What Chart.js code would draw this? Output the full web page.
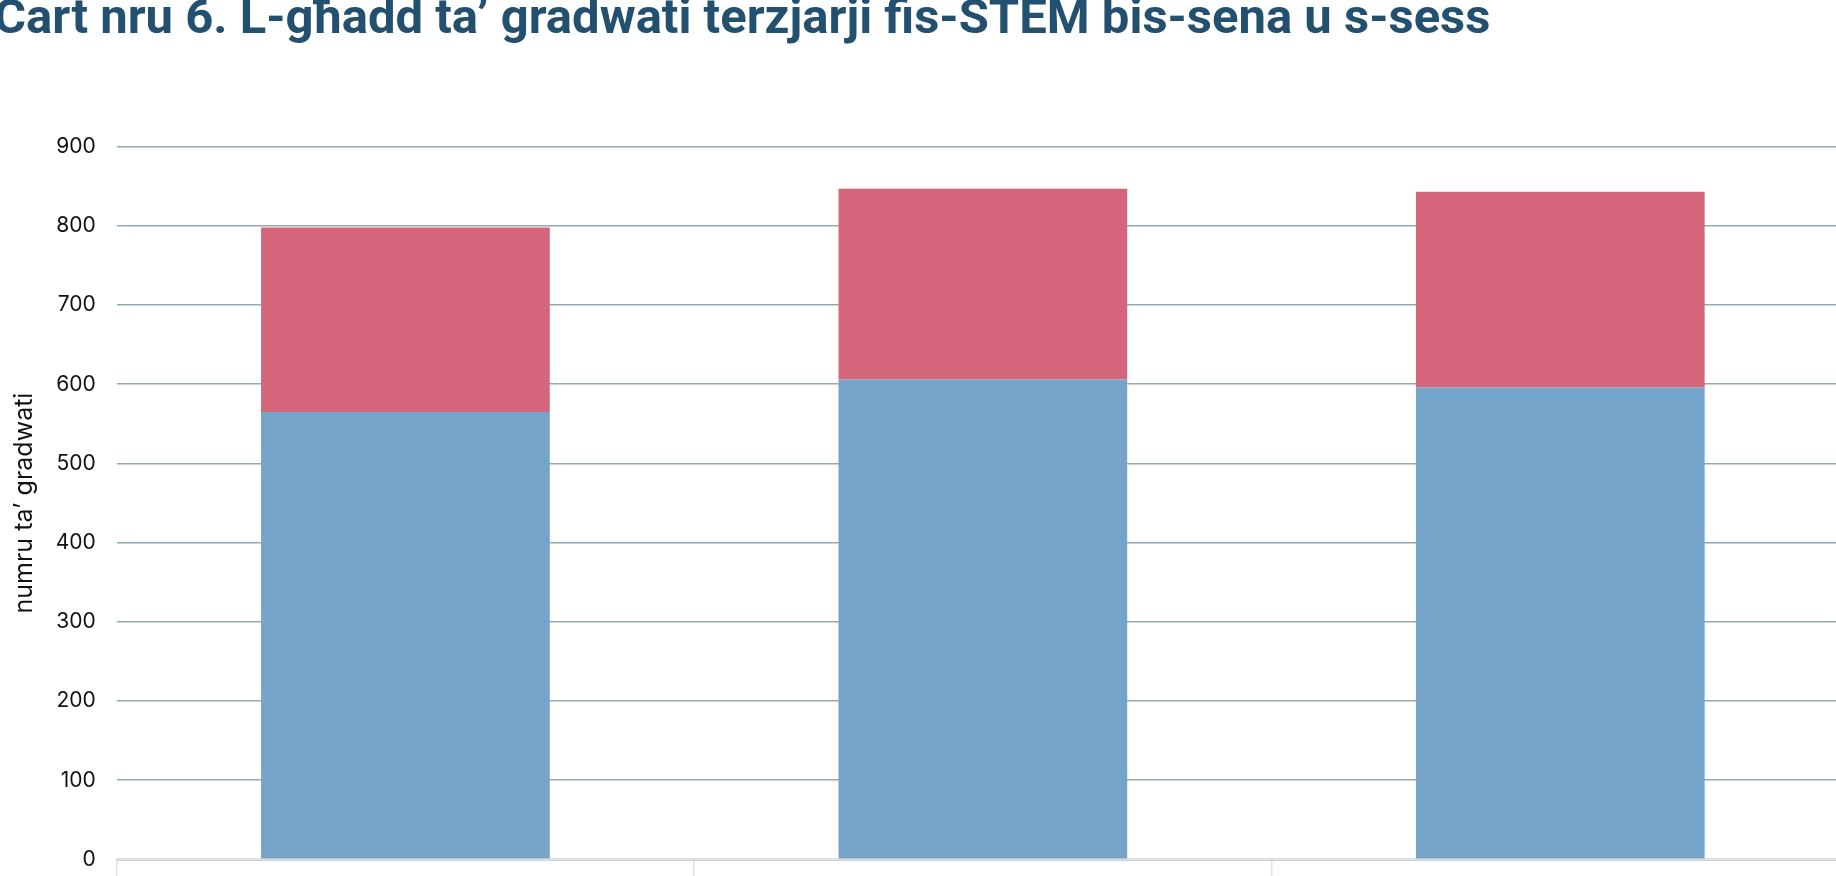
<!DOCTYPE html>
<html>
<head>
<meta charset="utf-8">
<script src="https://cdn.jsdelivr.net/npm/chart.js@4.4.1/dist/chart.umd.min.js"></script>
<style>
  html, body { margin: 0; padding: 0; background: #fff; overflow: hidden; }
  #wrap { position: relative; width: 1870px; height: 940px; }
  #titolu {
    position: absolute; left: -6px; top: -8px; margin: 0;
    font: bold 49px Roboto, sans-serif; line-height: 1; color: #22506e;
    white-space: nowrap; z-index: 2;
  }
  canvas { position: absolute; left: 0; top: 0; }
</style>
</head>
<body>
<div id="wrap">
  <h1 id="titolu">Ċart nru 6. L-għadd ta’ gradwati terzjarji fis-STEM bis-sena u s-sess</h1>
  <canvas id="chartGradwati" width="1870" height="940"></canvas>
</div>
<script>
// data
const snin = ["2019", "2020", "2021"];
const irgiel = [565, 606, 596];
const nisa = [233, 241, 247];
const tikketiY = [0, 100, 200, 300, 400, 500, 600, 700, 800, 900];

const ctx = document.getElementById("chartGradwati").getContext("2d");

Chart.defaults.font.family = "Inter, 'Noto Sans', sans-serif";
Chart.defaults.color = "#111";

const chart = new Chart(ctx, {
  type: "bar",
  data: {
    labels: snin,
    datasets: [
      {
        label: "Irġiel",
        data: irgiel,
        backgroundColor: "#74a4ca",
        barPercentage: 0.5,
        categoryPercentage: 1,
      },
      {
        label: "Nisa",
        data: nisa,
        backgroundColor: "#d4657a",
        barPercentage: 0.5,
        categoryPercentage: 1,
      },
    ],
  },
  options: {
    responsive: false,
    animation: false,
    layout: { padding: { top: 146.7, right: 21, left: 0, bottom: 0 } },
    plugins: {
      legend: { display: false },
      title: { display: false },
      tooltip: { enabled: false },
    },
    scales: {
      x: {
        stacked: true,
        grid: {
          drawOnChartArea: false,
          drawTicks: true,
          tickLength: 24,
          color: "#e2e2e2",
          lineWidth: 1.5,
        },
        border: { color: "#e0e0e0", width: 2 },
        ticks: { font: { size: 21 }, padding: 8 },
        afterFit: (scale) => { scale.height = 940 - 859.4; },
      },
      y: {
        stacked: true,
        min: 0,
        max: 900,
        afterBuildTicks: (scale) => {
          scale.ticks = tikketiY.map((v) => ({ value: v }));
        },
        grid: { color: "#95a7b0", lineWidth: 1.6, drawTicks: false },
        border: { display: false },
        ticks: { font: { size: 21 }, padding: 21 },
        title: {
          display: true,
          text: "numru ta’ gradwati",
          font: { size: 25 },
          padding: { top: 9, bottom: 0 },
        },
        afterFit: (scale) => { scale.width = 116.7; },
      },
    },
  },
});
</script>
</body>
</html>
